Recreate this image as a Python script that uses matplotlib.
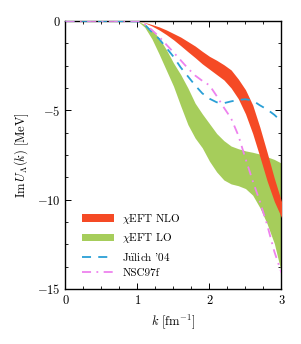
import matplotlib
matplotlib.use("Agg")
import matplotlib.pyplot as plt
from matplotlib.ticker import MultipleLocator

plt.rcParams["font.family"] = "serif"
plt.rcParams["font.serif"] = ["cmr10"]
plt.rcParams["mathtext.fontset"] = "cm"
plt.rcParams["axes.formatter.use_mathtext"] = True

# ==========================
# Data
# ==========================
k = [0.0, 0.5, 1.0, 1.1, 1.2, 1.3, 1.4, 1.5, 1.6, 1.7, 1.8, 1.9,
     2.0, 2.1, 2.2, 2.3, 2.4, 2.5, 2.6, 2.7, 2.8, 2.9, 3.0]

# chiEFT NLO band (upper / lower edge)
nlo_hi = [0, 0, 0, -0.08, -0.2, -0.33, -0.5, -0.7, -0.9, -1.15, -1.4, -1.7,
          -1.98, -2.2, -2.45, -2.74, -3.25, -3.85, -4.7, -5.95, -7.35, -8.8, -10.1]
nlo_lo = [0, 0, 0, -0.1, -0.28, -0.5, -0.76, -1.05, -1.38, -1.72, -2.05, -2.4,
          -2.7, -3.0, -3.3, -3.75, -4.35, -5.2, -6.3, -7.6, -8.95, -10.1, -11.0]

# chiEFT LO band (upper / lower edge)
lo_hi = [0, 0, 0, -0.2, -0.5, -0.95, -1.6, -2.35, -3.0, -3.75, -4.6, -5.2,
         -5.75, -6.3, -6.7, -7.0, -7.15, -7.27, -7.35, -7.45, -7.6, -7.75, -7.96]
lo_lo = [0, 0, 0, -0.35, -1.0, -1.85, -2.75, -3.65, -4.75, -5.8, -6.55, -7.1,
         -7.85, -8.45, -8.9, -9.12, -9.22, -9.38, -9.75, -10.45, -11.35, -12.45, -14.1]

julich = [0, 0, -0.02, -0.2, -0.62, -1.0, -1.5, -2.0, -2.6, -3.1, -3.6, -4.05,
          -4.35, -4.55, -4.6, -4.5, -4.42, -4.38, -4.45, -4.72, -4.95, -5.25, -5.63]
nsc97f = [0, 0, 0, -0.18, -0.5, -0.88, -1.32, -1.75, -2.2, -2.65, -3.05, -3.35,
          -3.6, -4.2, -4.85, -5.45, -6.4, -7.7, -8.95, -10.1, -11.4, -12.9, -14.1]

fig = plt.figure(figsize=(3.01, 3.44), dpi=100)
ax = fig.add_axes([0.2176, 0.160, 0.7176, 0.779])

ax.fill_between(k, nlo_lo, nlo_hi, color="#f54a25", lw=0, label=r"$\chi$EFT NLO", zorder=3)
ax.fill_between(k, lo_lo, lo_hi, color="#a6cd5b", lw=0, label=r"$\chi$EFT LO", zorder=2)
ax.plot(k, julich, color="#2a9fd6", ls=(0, (5, 4)), lw=1.3,
        label=r"J$\mathrm{\ddot{u}}$lich '04", zorder=4)
ax.plot(k, nsc97f, color="#ee82ee", ls=(0, (5, 3, 1, 3)), lw=1.3, label="NSC97f", zorder=4)

ax.set_xlim(0, 3)
ax.set_ylim(-15, 0)
ax.xaxis.set_major_locator(MultipleLocator(1))
ax.xaxis.set_minor_locator(MultipleLocator(0.25))
ax.yaxis.set_major_locator(MultipleLocator(5))
ax.yaxis.set_minor_locator(MultipleLocator(1.25))
ax.tick_params(which="both", direction="in", top=True, right=True, labelsize=9)
ax.tick_params(which="major", length=4, width=0.7)
ax.tick_params(which="minor", length=2, width=0.6)
for s in ax.spines.values():
    s.set_linewidth(1.0)

ax.set_xlabel(r"$k\ [\mathrm{fm}^{-1}]$", fontsize=9)
ax.set_ylabel(r"$\mathrm{Im}\,U_\Lambda(k)\ [\mathrm{MeV}]$", fontsize=9)

ax.legend(loc="upper left", bbox_to_anchor=(0.032, 0.325), frameon=False,
          fontsize=8, handlelength=2.8, handletextpad=0.8, labelspacing=0.5)

fig.savefig("out.png", dpi=100)
